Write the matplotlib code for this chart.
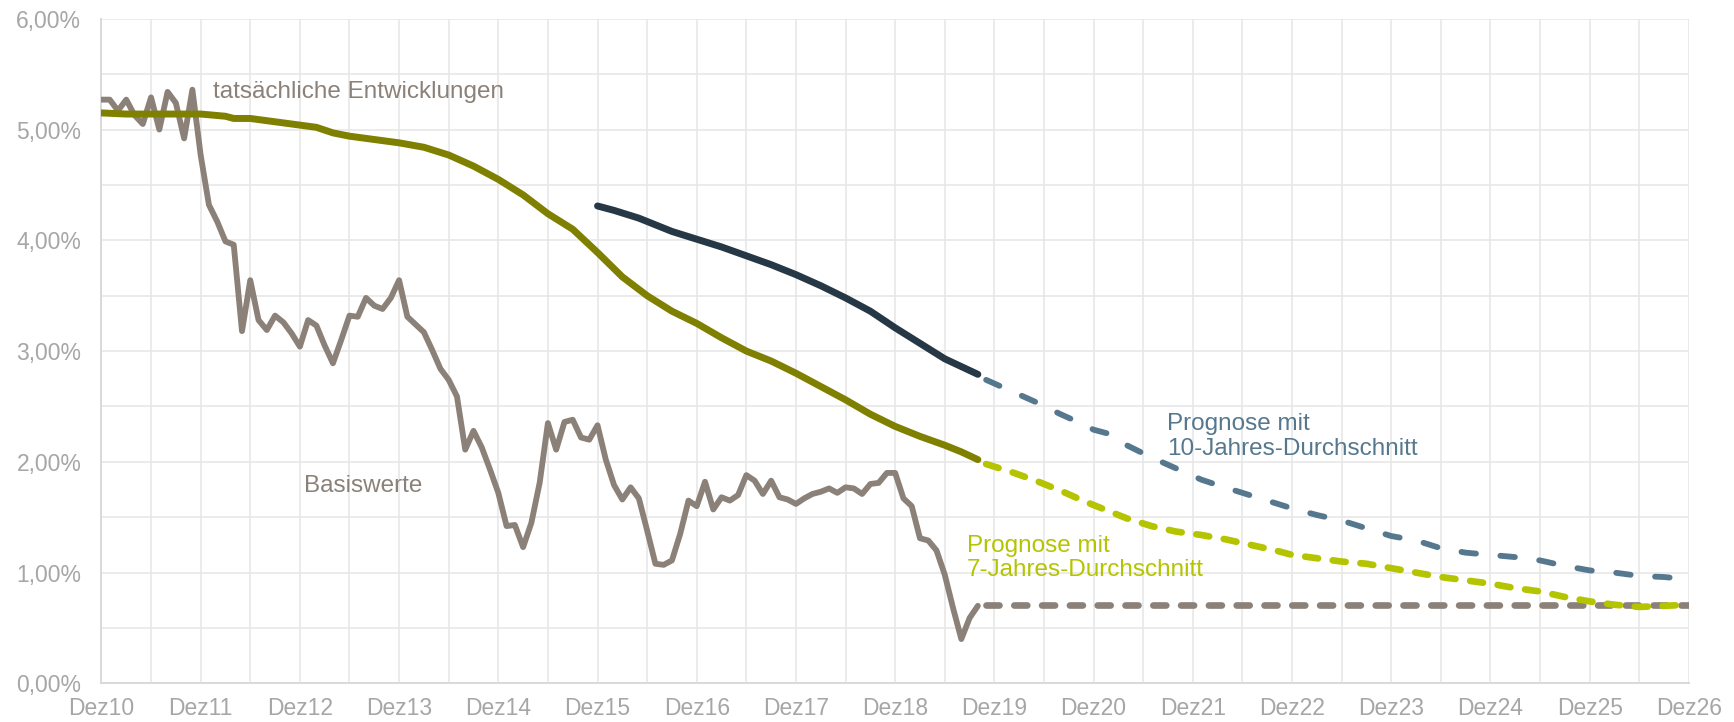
import matplotlib
matplotlib.use("Agg")
import matplotlib.pyplot as plt
from matplotlib.ticker import FuncFormatter, MultipleLocator

plt.rcParams['font.family'] = ['Liberation Sans', 'DejaVu Sans']

# ---------------- data ----------------
tick_labels = ["Dez10", "Dez11", "Dez12", "Dez13", "Dez14", "Dez15", "Dez16", "Dez17",
               "Dez18", "Dez19", "Dez20", "Dez21", "Dez22", "Dez23", "Dez24", "Dez25", "Dez26"]

# Basiswerte, monthly from Dez10 (month 0) to Okt19 (month 106)
basis_values = [
    5.27, 5.27, 5.17, 5.27, 5.13, 5.05, 5.29, 5.00, 5.34, 5.24, 4.92, 5.36,
    4.77, 4.32, 4.17, 3.99, 3.96, 3.18, 3.64, 3.28, 3.19, 3.32, 3.26, 3.16,
    3.04, 3.28, 3.23, 3.05, 2.89, 3.10, 3.32, 3.31, 3.48, 3.41, 3.38, 3.48,
    3.64, 3.31, 3.24, 3.17, 3.01, 2.84, 2.74, 2.59, 2.11, 2.28, 2.13, 1.93,
    1.72, 1.42, 1.43, 1.23, 1.45, 1.81, 2.35, 2.11, 2.36, 2.38, 2.22, 2.20,
    2.33, 2.02, 1.79, 1.66, 1.77, 1.67, 1.38, 1.08, 1.07, 1.11, 1.35, 1.65,
    1.60, 1.82, 1.57, 1.68, 1.65, 1.70, 1.88, 1.83, 1.71, 1.83, 1.68, 1.66,
    1.62, 1.67, 1.71, 1.73, 1.76, 1.72, 1.77, 1.76, 1.71, 1.80, 1.81, 1.90,
    1.90, 1.67, 1.60, 1.31, 1.29, 1.20, 0.98, 0.68, 0.40, 0.59, 0.70,
]
basis_months = list(range(len(basis_values)))

# Basiswerte forecast (flat)
basis_fc_months = [107, 192]
basis_fc_values = [0.71, 0.71]

# 7-Jahres-Durchschnitt (actual)
avg7_months = [0, 3, 6, 9, 12, 15, 16, 18, 21, 24, 26, 28, 30, 33, 36, 39, 42, 45, 48, 51,
               54, 57, 60, 63, 66, 69, 72, 75, 78, 81, 84, 87, 90, 93, 96, 99, 102, 104, 106]
avg7_values = [5.15, 5.14, 5.14, 5.14, 5.14, 5.12, 5.10, 5.10, 5.07, 5.04, 5.02, 4.97, 4.94,
               4.91, 4.88, 4.84, 4.77, 4.67, 4.55, 4.41, 4.24, 4.10, 3.89, 3.67, 3.50, 3.36,
               3.25, 3.12, 3.00, 2.91, 2.80, 2.68, 2.56, 2.43, 2.32, 2.23, 2.15, 2.09, 2.02]

# 7-Jahres-Durchschnitt forecast
avg7_fc_months = [107, 110, 113, 116, 119, 121, 123, 124, 127, 130, 133, 136, 139, 142, 144,
                  147, 150, 153, 156, 159, 162, 165, 168, 171, 174, 177, 180, 183, 186, 189, 192]
avg7_fc_values = [1.98, 1.91, 1.83, 1.74, 1.64, 1.58, 1.52, 1.49, 1.42, 1.37, 1.34, 1.30, 1.25,
                  1.20, 1.16, 1.13, 1.10, 1.08, 1.04, 1.00, 0.96, 0.93, 0.90, 0.86, 0.83, 0.78,
                  0.74, 0.71, 0.69, 0.70, 0.71]

# 10-Jahres-Durchschnitt (actual)
avg10_months = [60, 62, 65, 66, 69, 72, 75, 78, 81, 84, 87, 90, 93, 96, 99, 102, 104, 106]
avg10_values = [4.31, 4.27, 4.20, 4.17, 4.08, 4.01, 3.94, 3.86, 3.78, 3.69, 3.59, 3.48, 3.36,
                3.21, 3.07, 2.93, 2.86, 2.79]

# 10-Jahres-Durchschnitt forecast
avg10_fc_months = [107, 110, 113, 116, 119, 120, 122, 124, 127, 130, 133, 135, 138, 141, 144,
                   147, 150, 153, 156, 159, 162, 165, 168, 171, 174, 177, 180, 183, 186, 189, 192]
avg10_fc_values = [2.74, 2.64, 2.54, 2.43, 2.33, 2.29, 2.25, 2.15, 2.04, 1.94, 1.84, 1.79, 1.72,
                   1.65, 1.58, 1.52, 1.47, 1.40, 1.33, 1.29, 1.22, 1.18, 1.16, 1.14, 1.11, 1.06,
                   1.02, 1.00, 0.97, 0.96, 0.94]

# ---------------- styling ----------------
c_basis = "#8B8178"
c_olive = "#7F8000"
c_yellow = "#B4C400"
c_navy = "#263845"
c_blue = "#56788F"
c_tick = "#A6A6A6"
c_grid = "#E6E6E6"

fig = plt.figure(figsize=(17.34, 7.22), dpi=100)
ax = fig.add_axes([0.0585, 0.0535, 0.9155, 0.9205])

ax.set_xlim(0, 192)
ax.set_ylim(0, 6)

ax.xaxis.set_minor_locator(MultipleLocator(6))
ax.set_xticks(range(0, 193, 12))
ax.set_xticklabels(tick_labels)
ax.yaxis.set_major_locator(MultipleLocator(1))
ax.yaxis.set_minor_locator(MultipleLocator(0.5))
ax.yaxis.set_major_formatter(FuncFormatter(lambda v, p: f"{v:.2f}".replace(".", ",") + "%"))

ax.grid(True, which="both", color=c_grid, linewidth=1.1)
ax.set_axisbelow(True)
for s in ["top", "right"]:
    ax.spines[s].set_visible(False)
for s in ["left", "bottom"]:
    ax.spines[s].set_color("#D9D9D9")
    ax.spines[s].set_linewidth(1.4)
ax.tick_params(which="both", length=0)
ax.tick_params(axis="x", labelsize=16.5, colors=c_tick, pad=10)
ax.tick_params(axis="y", labelsize=16.5, colors=c_tick, pad=14.5)

lw_solid = 5.0
ax.plot(basis_months, basis_values, color=c_basis, lw=4.2,
        solid_joinstyle="round", solid_capstyle="round", zorder=3)
ax.plot(avg7_months, avg7_values, color=c_olive, lw=lw_solid,
        solid_joinstyle="round", solid_capstyle="round", zorder=4)
ax.plot(avg10_months, avg10_values, color=c_navy, lw=lw_solid,
        solid_joinstyle="round", solid_capstyle="round", zorder=4)

ax.plot(basis_fc_months, basis_fc_values, color=c_basis, lw=4.8,
        linestyle=(0, (1.95, 2.22)), dash_capstyle="round", zorder=3)
ax.plot(avg7_fc_months, avg7_fc_values, color=c_yellow, lw=4.8,
        linestyle=(0, (1.95, 2.22)), dash_capstyle="round", zorder=4)
ax.plot(avg10_fc_months, avg10_fc_values, color=c_blue, lw=4.2,
        linestyle=(0, (2.5, 4.2)), dash_capstyle="round", zorder=4)

ax.text(13.5, 5.34, "tatsächliche Entwicklungen", color=c_basis, fontsize=17.5,
        ha="left", va="center")
ax.text(24.5, 1.78, "Basiswerte", color=c_basis, fontsize=17.5, ha="left", va="center")
ax.text(128.9, 2.23, "Prognose mit\n10-Jahres-Durchschnitt", color=c_blue, fontsize=17.5,
        ha="left", va="center", linespacing=1.15)
ax.text(104.7, 1.13, "Prognose mit\n7-Jahres-Durchschnitt", color=c_yellow, fontsize=17.5,
        ha="left", va="center", linespacing=1.15)

fig.savefig("out.png", dpi=100)
